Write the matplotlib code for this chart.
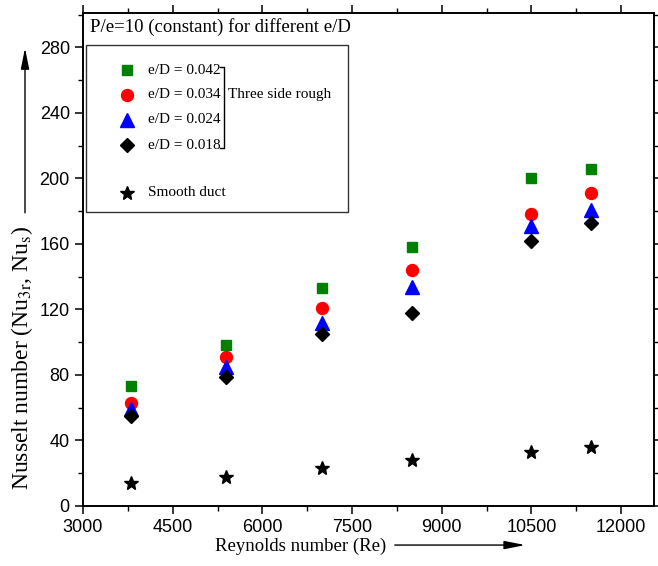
#%% imports

import matplotlib
matplotlib.use('Agg')
import matplotlib.pyplot as plt
from matplotlib.patches import Rectangle, FancyArrowPatch
from matplotlib.ticker import MultipleLocator

plt.rcParams['mathtext.fontset'] = 'stix'

#%% data

re = [3800, 5400, 7000, 8500, 10500, 11500]

nu_042 = [73, 98, 133, 158, 200, 206]
nu_034 = [63, 91, 121, 144, 178, 191]
nu_024 = [59, 85, 112, 134, 171, 181]
nu_018 = [55, 79, 105, 118, 162, 173]
nu_smooth = [14, 18, 23, 28, 33, 36]

labels = ['e/D = 0.042', 'e/D = 0.034', 'e/D = 0.024', 'e/D = 0.018']
series = [nu_042, nu_034, nu_024, nu_018]
colors = ['#008000', '#ff0000', '#0000ff', '#000000']
markers = ['s', 'o', '^', 'D']
sizes = [7.2, 8.6, 9.4, 6.8]

serif = 'Liberation Serif'
tickfont = ['Liberation Sans Narrow', 'Liberation Sans']

#%% plot

fig = plt.figure(figsize=(6.58, 5.66), dpi=100)
ax = fig.add_axes([83 / 658, 60 / 566, 571 / 658, 493 / 566])

for y, c, m, s in zip(series, colors, markers, sizes):
    ax.plot(re, y, linestyle='none', marker=m, color=c, markersize=s)
ax.plot(re, nu_smooth, linestyle='none', marker='*', color='black', markersize=10)

ax.set_xlim(3000, 12550)
ax.set_ylim(0, 301)
ax.xaxis.set_major_locator(MultipleLocator(1500))
ax.xaxis.set_minor_locator(MultipleLocator(750))
ax.yaxis.set_major_locator(MultipleLocator(40))
ax.yaxis.set_minor_locator(MultipleLocator(20))

for sp in ax.spines.values():
    sp.set_linewidth(1.4)
ax.tick_params(which='major', direction='out', length=6, width=1.1,
               top=True, right=True)
ax.tick_params(which='minor', direction='out', length=3.5, width=1.0,
               top=True, right=True)
for lab in ax.get_xticklabels() + ax.get_yticklabels():
    lab.set_family(tickfont)
    lab.set_fontsize(13)

#%% legend (drawn by hand, Origin style)

ax.text(0.012, 0.972, 'P/e=10 (constant) for different e/D', transform=ax.transAxes,
        family=serif, fontsize=13.5, ha='left', va='center')
ax.add_patch(Rectangle((0.005, 0.596), 0.459, 0.339, transform=ax.transAxes,
                       fill=False, edgecolor='#333333', lw=1.0))

rows = [0.884, 0.834, 0.783, 0.732]
for yy, lab, c, m, s in zip(rows, labels, colors, markers, sizes):
    ax.plot([0.077], [yy], transform=ax.transAxes, linestyle='none',
            marker=m, color=c, markersize=s, clip_on=False)
    ax.text(0.114, yy, lab, transform=ax.transAxes, family=serif,
            fontsize=11, ha='left', va='center')
ax.plot([0.077], [0.635], transform=ax.transAxes, linestyle='none',
        marker='*', color='black', markersize=10, clip_on=False)
ax.text(0.114, 0.635, 'Smooth duct', transform=ax.transAxes, family=serif,
        fontsize=11, ha='left', va='center')

# bracket grouping the rough cases
ax.plot([0.240, 0.247, 0.247, 0.240], [0.890, 0.890, 0.727, 0.727],
        transform=ax.transAxes, color='black', lw=1.0)
ax.text(0.254, 0.834, 'Three side rough', transform=ax.transAxes, family=serif,
        fontsize=11, ha='left', va='center')

#%% axis labels with arrows

fig.text(0.034, 0.367, 'Nusselt number (Nu$_{\\mathrm{3r}}$, Nu$_{\\mathrm{s}}$)',
         rotation=90, family=serif, fontsize=17, ha='center', va='center')
fig.text(0.457, 0.035, 'Reynolds number (Re)', family=serif, fontsize=13.5,
         ha='center', va='center')

arrow = dict(arrowstyle='-|>,head_length=0.9,head_width=0.18', color='black',
             lw=1.0, mutation_scale=14, shrinkA=0, shrinkB=0)
fig.add_artist(FancyArrowPatch((0.038, 0.624), (0.038, 0.915),
                               transform=fig.transFigure, **arrow))
fig.add_artist(FancyArrowPatch((0.600, 0.037), (0.798, 0.037),
                               transform=fig.transFigure, **arrow))

fig.savefig('out.png', dpi=100)
